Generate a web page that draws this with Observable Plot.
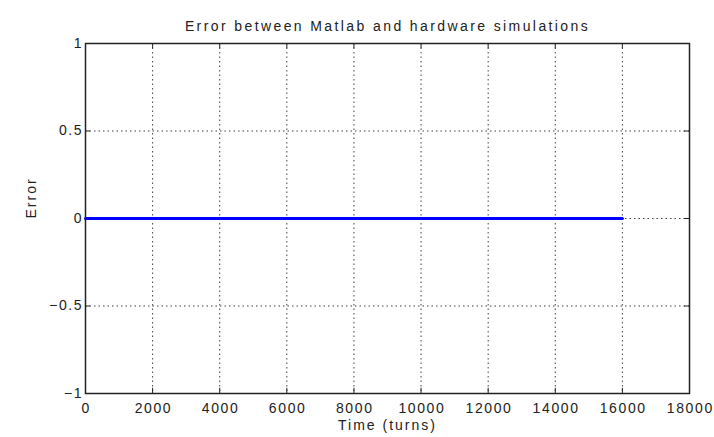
<!DOCTYPE html>
<html>
<head>
<meta charset="utf-8">
<script src="https://cdn.jsdelivr.net/npm/d3@7"></script>
<script src="https://cdn.jsdelivr.net/npm/@observablehq/plot@0.6"></script>
<style>
  html, body { margin: 0; padding: 0; background: #fff; }
  #chart svg { display: block; }
</style>
</head>
<body>
<div id="chart"></div>
<script>
// Data
const time = [0, 2000, 4000, 6000, 8000, 10000, 12000, 14000, 16000];
const error = [0, 0, 0, 0, 0, 0, 0, 0, 0];
const xTicks = [0, 2000, 4000, 6000, 8000, 10000, 12000, 14000, 16000, 18000];
const yTicks = [-1, -0.5, 0, 0.5, 1];
const yTickLabels = ["\u22121", "\u22120.5", "0", "0.5", "1"];
const titleText = "Error between Matlab and hardware simulations";
const xLabel = "Time (turns)";
const yLabel = "Error";

const data = time.map((t, i) => ({time: t, error: error[i]}));
const xDomain = [0, 18000];
const yDomain = [-1, 1];
const tickLenX = 150;   // inner tick length in x units
const tickLenY = 0.03;  // inner tick length in y units

const font = "'Liberation Sans', Arial, Helvetica, sans-serif";

const chart = Plot.plot({
  width: 714,
  height: 437,
  marginLeft: 85,
  marginRight: 25,
  marginTop: 43,
  marginBottom: 44,
  style: {fontFamily: font, fontSize: "14px", color: "#222", background: "#fff"},
  x: {domain: xDomain, ticks: xTicks, label: null},
  y: {domain: yDomain, ticks: yTicks, label: null},
  marks: [
    Plot.gridX(xTicks, {stroke: "#000", strokeOpacity: 0.75, strokeDasharray: "1.5,3"}),
    Plot.gridY(yTicks, {stroke: "#000", strokeOpacity: 0.75, strokeDasharray: "1.5,3"}),
    Plot.ruleX(xTicks, {x: d => d, y1: yDomain[0], y2: yDomain[0] + tickLenY, stroke: "#222"}),
    Plot.ruleX(xTicks, {x: d => d, y1: yDomain[1], y2: yDomain[1] - tickLenY, stroke: "#222"}),
    Plot.ruleY(yTicks, {y: d => d, x1: xDomain[0], x2: xDomain[0] + tickLenX, stroke: "#222"}),
    Plot.ruleY(yTicks, {y: d => d, x1: xDomain[1], x2: xDomain[1] - tickLenX, stroke: "#222"}),
    Plot.line(data, {x: "time", y: "error", stroke: "#0000ff", strokeWidth: 3}),
    Plot.frame({stroke: "#222", strokeWidth: 1.5}),
    Plot.axisX(xTicks, {tickSize: 0, tickPadding: 10, tickFormat: d => String(d), fontSize: 14, fill: "#222"}),
    Plot.axisY(yTicks, {tickSize: 0, tickPadding: 4, tickFormat: d => yTickLabels[yTicks.indexOf(d)], fontSize: 14, fill: "#222"}),
    Plot.text([xLabel], {frameAnchor: "bottom", dy: 36, text: d => d, fontSize: 14, fill: "#222"}),
    Plot.text([yLabel], {frameAnchor: "left", dx: -54, rotate: -90, text: d => d, fontSize: 14, fill: "#222"}),
    Plot.text([titleText], {frameAnchor: "top", dy: -22, text: d => d, fontSize: 14, fill: "#222"})
  ]
});

// widen text spacing to match the reference's horizontally stretched lettering
const svg = d3.select(chart);
svg.selectAll('g[aria-label="x-axis tick label"] text').attr("letter-spacing", "1.6px").attr("dx", "0.8px");
svg.selectAll('g[aria-label="y-axis tick label"] text').attr("letter-spacing", "1.5px").attr("dx", "1.5px");
const textGroups = svg.selectAll('g[aria-label="text"]').nodes();
d3.select(textGroups[0]).selectAll("text").attr("letter-spacing", "2px");
d3.select(textGroups[1]).selectAll("text").attr("letter-spacing", "2px");
d3.select(textGroups[2]).selectAll("text").attr("letter-spacing", "2.4px");

document.getElementById("chart").appendChild(chart);
</script>
</body>
</html>
